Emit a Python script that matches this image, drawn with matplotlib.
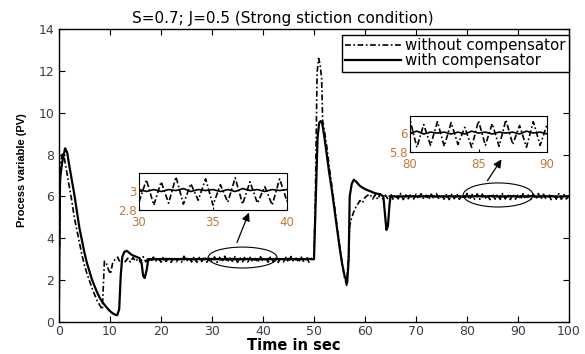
import numpy as np
import matplotlib
matplotlib.use("Agg")
import matplotlib.pyplot as plt
from matplotlib.patches import Ellipse

# ---- without compensator (dash-dot) ----
t_wo_start = [0.1, 0.3, 0.7, 1.0, 1.5, 2.0, 2.5, 3.0, 3.5, 4.0, 4.5, 5.0, 5.5,
              6.0, 6.5, 7.0, 7.5, 8.0, 8.5, 8.9, 9.3, 9.7, 10.1, 10.5, 11.0]
pv_wo_start = [3.6, 7.6, 8.1, 7.9, 7.2, 6.5, 5.8, 5.0, 4.4, 3.8, 3.2, 2.7, 2.3,
               1.95, 1.6, 1.3, 1.0, 0.8, 0.6, 2.9, 2.8, 2.5, 2.3, 2.8, 3.0]
pv_wo_sp3 = [3.10, 2.84, 2.95, 2.88, 3.05, 2.86, 3.08, 2.90, 3.02, 2.85,
             3.12, 2.88, 3.06, 2.87, 3.10, 2.92, 3.04, 2.86, 3.13, 2.89,
             3.07, 2.85, 3.11, 2.88, 3.03, 2.86, 3.14, 2.90, 3.06, 2.87,
             3.12, 2.85, 3.08, 2.89, 3.13, 2.86, 3.05, 2.88, 3.11, 2.85,
             3.09, 2.87, 3.14, 2.86, 3.07, 2.90, 3.12, 2.85, 3.06, 2.88,
             3.13, 2.86, 3.09, 2.87, 3.04, 2.85, 3.12, 2.89, 3.08, 2.86,
             3.14, 2.88, 3.06, 2.85, 3.11, 2.87, 3.09, 2.86, 3.13, 2.88,
             3.05, 2.85, 3.10, 2.87, 3.12, 2.86, 3.04]
t_wo_step = [50.0, 50.3, 50.6, 50.9, 51.2, 51.5, 51.7, 52.0, 52.5, 53.0, 53.5,
             54.0, 54.5, 55.0, 55.5, 56.0, 56.4, 56.8, 57.0, 57.3, 57.7, 58.0,
             58.5, 59.0, 59.5, 60.0, 60.5]
pv_wo_step = [3.0, 6.5, 11.9, 12.6, 12.3, 11.6, 9.6, 9.2, 8.4, 7.4, 6.5,
              5.6, 4.6, 3.7, 2.8, 2.1, 1.75, 3.3, 4.6, 4.9, 5.2, 5.4,
              5.6, 5.8, 5.7, 5.95, 6.05]
pv_wo_sp6 = [6.10, 5.88, 6.08, 5.86, 6.12, 5.89, 6.06, 5.87, 6.13, 5.86,
             6.09, 5.88, 6.14, 5.85, 6.07, 5.89, 6.12, 5.86, 6.10, 5.88,
             6.13, 5.87, 6.06, 5.85, 6.11, 5.88, 6.14, 5.86, 6.08, 5.87,
             6.12, 5.85, 6.10, 5.89, 6.13, 5.86, 6.07, 5.88, 6.14, 5.85,
             6.09, 5.87, 6.12, 5.86, 6.11, 5.88, 6.06, 5.85, 6.13, 5.87,
             6.10, 5.86, 6.14, 5.88, 6.08, 5.85, 6.12, 5.87, 6.09, 5.86,
             6.13, 5.88, 6.07, 5.85, 6.11, 5.87, 6.14, 5.86, 6.10, 5.88,
             6.12, 5.85, 6.08, 5.87, 6.13, 5.86, 6.09, 5.88, 6.05]

# ---- with compensator (solid) ----
t_w_start = [0.0, 0.2, 0.6, 1.2, 1.6, 2.0, 2.5, 3.0, 3.5, 4.0, 4.5, 5.0, 5.5,
             6.0, 6.5, 7.0, 7.5, 8.0, 8.5, 9.0, 9.5, 10.0, 10.5, 11.0, 11.4,
             11.8, 12.1, 12.4, 12.8, 13.3, 13.8, 14.3, 14.8, 15.3, 15.8, 16.2,
             16.5, 16.8, 17.2, 17.5]
pv_w_start = [1.0, 6.8, 7.6, 8.3, 8.1, 7.5, 6.8, 6.1, 5.3, 4.5, 3.9, 3.3, 2.8,
              2.4, 2.0, 1.7, 1.4, 1.15, 0.95, 0.8, 0.65, 0.52, 0.42, 0.35, 0.32,
              0.6, 2.2, 3.1, 3.35, 3.4, 3.3, 3.2, 3.15, 3.1, 3.05, 2.8,
              2.2, 2.1, 2.5, 3.0]
pv_w_sp3 = [3.01, 2.99, 3.01, 3.00, 3.01, 2.99, 3.02, 3.00, 3.01, 2.99,
            3.01, 3.00, 3.01, 2.99, 3.02, 3.00, 3.01, 2.99, 3.01, 3.00,
            3.01, 2.99, 3.02, 3.00, 3.01, 2.99, 3.01, 2.99, 3.01, 3.00,
            3.02, 2.99, 3.01, 3.00, 3.01, 2.99, 3.01, 2.99, 3.02, 3.00,
            3.01, 2.99, 3.01, 3.00, 3.01, 2.99, 3.02, 3.00, 3.01, 2.99,
            3.01, 3.00, 3.01, 2.99, 3.02, 3.00, 3.01, 2.99, 3.01, 3.00,
            3.01, 2.99, 3.02, 3.00]
t_w_step = [50.0, 50.3, 50.7, 51.0, 51.3, 51.6, 52.0, 52.5, 53.0, 53.5,
            54.0, 54.5, 55.0, 55.5, 56.0, 56.5, 56.8, 57.0, 57.4, 57.8,
            58.3, 59.0, 60.0, 61.0, 62.0, 63.0, 63.6, 63.9, 64.2, 64.5,
            64.8, 65.0]
pv_w_step = [3.0, 5.5, 8.8, 9.5, 9.6, 9.5, 8.9, 8.0, 7.1, 6.3,
             5.4, 4.5, 3.6, 2.8, 2.2, 1.85, 3.0, 6.0, 6.6, 6.8,
             6.7, 6.5, 6.35, 6.25, 6.15, 6.1, 6.0, 5.2, 4.4, 4.6,
             5.6, 6.0]
pv_w_sp6 = [6.01, 5.99, 6.01, 6.00, 6.01, 5.99, 6.02, 6.00, 6.01, 5.99,
            6.01, 6.00, 6.01, 5.99, 6.02, 6.00, 6.01, 5.99, 6.01, 6.00,
            6.01, 5.99, 6.02, 6.00, 6.01, 5.99, 6.01, 5.99, 6.01, 6.00,
            6.02, 5.99, 6.01, 6.00, 6.01, 5.99, 6.01, 5.99, 6.02, 6.00,
            6.01, 5.99, 6.01, 6.00, 6.01, 5.99, 6.02, 6.00, 6.01, 5.99,
            6.01, 6.00, 6.01, 5.99, 6.02, 6.00, 6.01, 5.99, 6.01, 6.00,
            6.01, 5.99, 6.02, 6.00, 6.01, 5.99, 6.01, 6.00, 6.01, 5.99]

# sampled every 0.5 s in the steady parts
t_wo = np.concatenate([t_wo_start, np.arange(11.5, 50, 0.5), t_wo_step, np.arange(61, 100.5, 0.5)])
pv_wo = np.concatenate([pv_wo_start, pv_wo_sp3, pv_wo_step, pv_wo_sp6])
t_w = np.concatenate([t_w_start, np.arange(18, 50, 0.5), t_w_step, np.arange(65.5, 100.5, 0.5)])
pv_w = np.concatenate([pv_w_start, pv_w_sp3, pv_w_step, pv_w_sp6])

dashdot = (0, (3.5, 1.5, 1, 1.5))
tick_col = "#3c3c4a"

fig = plt.figure(figsize=(5.85, 3.54), dpi=100)
ax = fig.add_axes([59/585, 1-322/354, 510/585, 293/354])
ax.plot(t_wo, pv_wo, color="black", lw=1.2, linestyle=dashdot, label="without compensator")
ax.plot(t_w, pv_w, color="black", lw=1.6, label="with compensator")
ax.set_xlim(0, 100)
ax.set_ylim(0, 14)
ax.set_xticks(range(0, 101, 10))
ax.set_yticks(range(0, 15, 2))
ax.tick_params(direction="in", length=4, top=True, right=True, labelsize=9,
               labelcolor=tick_col, width=0.8)
ax.tick_params(axis="x", pad=2.5)
for s in ax.spines.values():
    s.set_linewidth(1.0)

leg = ax.legend(loc="upper right", bbox_to_anchor=(1.0, 0.98), borderaxespad=0,
                fontsize=10.8, fancybox=False, framealpha=1, edgecolor="black",
                handlelength=3.7, labelspacing=0.02, borderpad=0.22, handletextpad=0.3)
leg.get_frame().set_linewidth(1.0)

# ellipses and arrows pointing at the zoomed views
ax.add_patch(Ellipse((36.0, 3.08), 13.5, 1.0, fill=False, lw=0.8, color="black"))
ax.add_patch(Ellipse((86.1, 6.07), 13.7, 1.15, fill=False, lw=0.8, color="black"))
ax.annotate("", xy=(37.45, 5.35), xytext=(34.7, 3.68),
            arrowprops=dict(arrowstyle="-|>", lw=0.9, color="black", mutation_scale=12))
ax.annotate("", xy=(87.06, 7.88), xytext=(83.7, 6.64),
            arrowprops=dict(arrowstyle="-|>", lw=0.9, color="black", mutation_scale=12))

# zoomed insets
insets = [([139, 173, 148, 37], (30, 40), (2.8, 3.18), [30, 35, 40], [2.8, 3], ["2.8", "3"]),
          ([410, 116, 137, 36], (80, 90), (5.8, 6.18), [80, 85, 90], [5.8, 6], ["5.8", "6"])]
for (px, xl, yl, xt, yt, ytl) in insets:
    ia = fig.add_axes([px[0]/585, 1-(px[1]+px[3])/354, px[2]/585, px[3]/354])
    ia.plot(t_wo, pv_wo, color="black", lw=1.2, linestyle=dashdot)
    ia.plot(t_w, pv_w, color="black", lw=1.2)
    ia.set_xlim(*xl)
    ia.set_ylim(*yl)
    ia.set_xticks(xt)
    ia.set_yticks(yt)
    ia.set_yticklabels(ytl)
    ia.tick_params(direction="in", length=2, labelsize=8.5, labelcolor="#c07a3a", pad=1.5)
    ia.tick_params(axis="x", pad=4)
    for s in ia.spines.values():
        s.set_linewidth(0.8)

fig.text(283/585, 1-19/354, "S=0.7; J=0.5 (Strong stiction condition)",
         ha="center", va="center", fontsize=11)
fig.text(294/585, 1-345/354, "Time in sec", ha="center", va="center",
         fontsize=10.5, fontweight="bold")
fig.text(22/585, 1-170/354, "Process variable (PV)", ha="center", va="center",
         rotation=90, fontsize=8, fontweight="bold",
         family=["Liberation Sans Narrow", "Liberation Sans", "DejaVu Sans"])

fig.savefig("out.png", dpi=100)
